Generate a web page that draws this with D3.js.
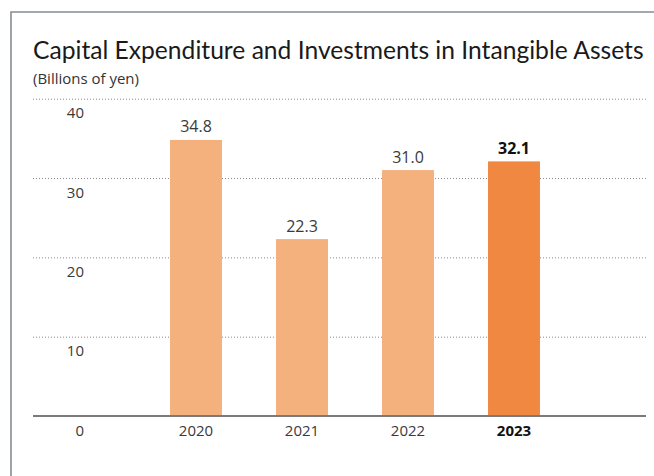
<!DOCTYPE html>
<html>
<head>
<meta charset="utf-8">
<script src="https://cdn.jsdelivr.net/npm/d3@7"></script>
<style>
  html, body { margin: 0; padding: 0; background: #fff; }
  svg { display: block; font-family: "Open Sans", "Noto Sans", sans-serif; }
</style>
</head>
<body>
<svg id="chart" width="654" height="476"></svg>
<script>
const title = "Capital Expenditure and Investments in Intangible Assets";
const unitLabel = "(Billions of yen)";
const years = ["2020", "2021", "2022", "2023"];
const values = [34.8, 22.3, 31.0, 32.1];
const highlight = ["2023"];
const yTicks = [0, 10, 20, 30, 40];

const svg = d3.select("#chart");

// frame (top + left border)
svg.append("path")
  .attr("d", "M11,476 L11,12 L654,12")
  .attr("fill", "none")
  .attr("stroke", "#858c93")
  .attr("stroke-width", 1.6);

// title
const t = svg.append("text")
  .attr("x", 33).attr("y", 59)
  .attr("fill", "#1a1a1a")
  .attr("font-family", "Lato, 'Open Sans', sans-serif")
  .attr("font-size", 26)
  .text(title);
const tw = t.node().getComputedTextLength();
t.attr("font-size", 26 * 611 / tw);

const st = svg.append("text")
  .attr("x", 33).attr("y", 84)
  .attr("fill", "#333")
  .attr("font-size", 13)
  .text(unitLabel);
const sw = st.node().getComputedTextLength();
st.attr("font-size", 13 * 106 / sw);

const left = 33, right = 646;
const y = d3.scaleLinear().domain([0, 40]).range([416, 98.7]);
const x = d3.scaleBand().domain(years).range([143, 567]).paddingInner(0.51).paddingOuter(0.255);

// grid
const grid = svg.append("g")
  .attr("transform", `translate(${left},0)`)
  .call(d3.axisRight(y).tickValues(yTicks.filter(d => d > 0)).tickSize(right - left).tickFormat(""));
grid.select(".domain").remove();
grid.selectAll("line")
  .attr("stroke", "#8a8a8a")
  .attr("stroke-width", 1)
  .attr("stroke-dasharray", "1 2");

// y labels
const ya = svg.append("g")
  .attr("transform", `translate(84,0)`)
  .call(d3.axisLeft(y).tickValues(yTicks).tickSize(0).tickPadding(0));
ya.select(".domain").remove();
ya.selectAll("text")
  .attr("dy", 19)
  .attr("fill", "#3a3a3a")
  .attr("font-size", 15)
  .attr("font-family", "'Open Sans', 'Noto Sans', sans-serif");

// bars
svg.append("g").selectAll("rect")
  .data(years.map((d, i) => ({ year: d, value: values[i] })))
  .join("rect")
  .attr("x", d => x(d.year))
  .attr("y", d => y(d.value))
  .attr("width", x.bandwidth())
  .attr("height", d => y(0) - y(d.value))
  .attr("fill", d => highlight.includes(d.year) ? "#f08842" : "#f4b07d");

// value labels
svg.append("g").selectAll("text")
  .data(years.map((d, i) => ({ year: d, value: values[i] })))
  .join("text")
  .attr("x", d => x(d.year) + x.bandwidth() / 2)
  .attr("y", d => y(d.value) - 7.5)
  .attr("text-anchor", "middle")
  .attr("font-size", 16)
  .attr("font-weight", d => highlight.includes(d.year) ? 700 : 400)
  .attr("fill", d => highlight.includes(d.year) ? "#111" : "#3a3a3a")
  .text(d => d.value.toFixed(1));

// baseline
svg.append("line")
  .attr("x1", left).attr("x2", right)
  .attr("y1", y(0)).attr("y2", y(0))
  .attr("stroke", "#7a7a7a")
  .attr("stroke-width", 2);

// x labels
const xa = svg.append("g")
  .attr("transform", `translate(0,${y(0)})`)
  .call(d3.axisBottom(x).tickSize(0).tickPadding(0));
xa.select(".domain").remove();
xa.selectAll("text")
  .attr("dy", 19.5)
  .attr("y", 0)
  .attr("font-size", 15)
  .attr("font-family", "'Open Sans', 'Noto Sans', sans-serif")
  .attr("font-weight", d => highlight.includes(d) ? 700 : 400)
  .attr("fill", d => highlight.includes(d) ? "#111" : "#3a3a3a");
</script>
</body>
</html>
